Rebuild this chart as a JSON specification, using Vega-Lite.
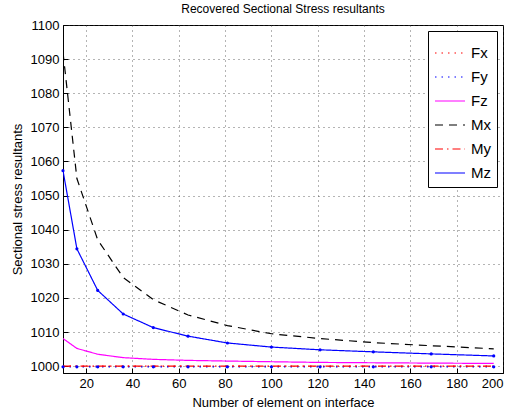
{
  "$schema": "https://vega.github.io/schema/vega-lite/v6.json",
  "autosize": {"type": "none"},
  "width": 440,
  "height": 348,
  "padding": {"left": 63, "top": 25, "right": 9, "bottom": 38},
  "background": "white",
  "title": {"text": "Recovered Sectional Stress resultants", "fontSize": 12, "fontWeight": "normal", "font": "Liberation Sans", "color": "black", "offset": 3},
  "data": {"values": [
    {"x": 10, "s": "Fx", "v": 1000}, {"x": 16, "s": "Fx", "v": 1000}, {"x": 25, "s": "Fx", "v": 1000}, {"x": 36, "s": "Fx", "v": 1000}, {"x": 49, "s": "Fx", "v": 1000}, {"x": 64, "s": "Fx", "v": 1000}, {"x": 81, "s": "Fx", "v": 1000}, {"x": 100, "s": "Fx", "v": 1000}, {"x": 121, "s": "Fx", "v": 1000}, {"x": 144, "s": "Fx", "v": 1000}, {"x": 169, "s": "Fx", "v": 1000}, {"x": 196, "s": "Fx", "v": 1000},
    {"x": 10, "s": "Fy", "v": 999.8}, {"x": 16, "s": "Fy", "v": 999.8}, {"x": 25, "s": "Fy", "v": 999.8}, {"x": 36, "s": "Fy", "v": 999.8}, {"x": 49, "s": "Fy", "v": 999.8}, {"x": 64, "s": "Fy", "v": 999.8}, {"x": 81, "s": "Fy", "v": 999.8}, {"x": 100, "s": "Fy", "v": 999.8}, {"x": 121, "s": "Fy", "v": 999.8}, {"x": 144, "s": "Fy", "v": 999.8}, {"x": 169, "s": "Fy", "v": 999.8}, {"x": 196, "s": "Fy", "v": 999.8},
    {"x": 10, "s": "Fz", "v": 1008.1}, {"x": 16, "s": "Fz", "v": 1005.2}, {"x": 25, "s": "Fz", "v": 1003.5}, {"x": 36, "s": "Fz", "v": 1002.5}, {"x": 49, "s": "Fz", "v": 1002.0}, {"x": 64, "s": "Fz", "v": 1001.7}, {"x": 81, "s": "Fz", "v": 1001.5}, {"x": 100, "s": "Fz", "v": 1001.3}, {"x": 121, "s": "Fz", "v": 1001.1}, {"x": 144, "s": "Fz", "v": 1001.0}, {"x": 169, "s": "Fz", "v": 1000.9}, {"x": 196, "s": "Fz", "v": 1000.8},
    {"x": 10, "s": "Mx", "v": 1092}, {"x": 16, "s": "Mx", "v": 1055}, {"x": 25, "s": "Mx", "v": 1037}, {"x": 36, "s": "Mx", "v": 1026}, {"x": 49, "s": "Mx", "v": 1019.5}, {"x": 64, "s": "Mx", "v": 1015}, {"x": 81, "s": "Mx", "v": 1011.9}, {"x": 100, "s": "Mx", "v": 1009.5}, {"x": 121, "s": "Mx", "v": 1008.1}, {"x": 144, "s": "Mx", "v": 1006.9}, {"x": 169, "s": "Mx", "v": 1006.0}, {"x": 196, "s": "Mx", "v": 1005.1},
    {"x": 10, "s": "My", "v": 1000}, {"x": 16, "s": "My", "v": 1000}, {"x": 25, "s": "My", "v": 1000}, {"x": 36, "s": "My", "v": 1000}, {"x": 49, "s": "My", "v": 1000}, {"x": 64, "s": "My", "v": 1000}, {"x": 81, "s": "My", "v": 1000}, {"x": 100, "s": "My", "v": 1000}, {"x": 121, "s": "My", "v": 1000}, {"x": 144, "s": "My", "v": 1000}, {"x": 169, "s": "My", "v": 1000}, {"x": 196, "s": "My", "v": 1000},
    {"x": 10, "s": "Mz", "v": 1057.3}, {"x": 16, "s": "Mz", "v": 1034.4}, {"x": 25, "s": "Mz", "v": 1022.2}, {"x": 36, "s": "Mz", "v": 1015.3}, {"x": 49, "s": "Mz", "v": 1011.3}, {"x": 64, "s": "Mz", "v": 1008.8}, {"x": 81, "s": "Mz", "v": 1006.8}, {"x": 100, "s": "Mz", "v": 1005.6}, {"x": 121, "s": "Mz", "v": 1004.8}, {"x": 144, "s": "Mz", "v": 1004.2}, {"x": 169, "s": "Mz", "v": 1003.6}, {"x": 196, "s": "Mz", "v": 1003.0}
  ]},
  "encoding": {
    "x": {"field": "x", "type": "quantitative", "scale": {"domain": [10, 200], "nice": false, "zero": false},
          "axis": {"title": "Number of element on interface", "values": [20, 40, 60, 80, 100, 120, 140, 160, 180, 200], "format": "d", "labelOverlap": false, "grid": true}},
    "y": {"field": "v", "type": "quantitative", "scale": {"domain": [998, 1100], "nice": false, "zero": false},
          "axis": {"title": "Sectional stress resultants", "values": [1000, 1010, 1020, 1030, 1040, 1050, 1060, 1070, 1080, 1090, 1100], "format": "d", "labelOverlap": false, "grid": true}}
  },
  "layer": [
    {
      "mark": {"type": "line", "clip": true},
      "encoding": {
        "color": {"field": "s", "type": "nominal",
                  "scale": {"domain": ["Fx", "Fy", "Fz", "Mx", "My", "Mz"], "range": ["#ff0000", "#0000ff", "#ff00ff", "#000000", "#ff0000", "#0000ff"]},
                  "legend": {"title": null}},
        "strokeDash": {"field": "s", "type": "nominal",
                  "scale": {"domain": ["Fx", "Fy", "Fz", "Mx", "My", "Mz"], "range": [[1.5, 5], [1.5, 5], [1, 0], [8, 6], [8, 4, 1.5, 4], [1, 0]]},
                  "legend": {"title": null}},
        "strokeWidth": {"field": "s", "type": "nominal",
                  "scale": {"domain": ["Fx", "Fy", "Fz", "Mx", "My", "Mz"], "range": [1.2, 1.2, 2.2, 2.2, 2, 2]},
                  "legend": null}
      }
    },
    {
      "transform": [{"filter": "datum.s === 'Fy' || datum.s === 'Mz'"}],
      "mark": {"type": "point", "filled": true, "size": 10, "color": "#0000ff", "opacity": 1}
    }
  ],
  "config": {
    "font": "Liberation Sans",
    "view": {"stroke": "black", "strokeWidth": 1},
    "axis": {
      "labelFont": "Liberation Sans", "labelFontSize": 13, "labelColor": "black",
      "titleFont": "Liberation Sans", "titleFontSize": 13, "titleFontWeight": "normal", "titleColor": "black",
      "domainColor": "black", "tickColor": "black", "tickSize": -5, "labelPadding": 9,
      "gridColor": "#444444", "gridDash": [1, 4], "gridOpacity": 0.8, "gridWidth": 1
    },
    "axisX": {"titlePadding": 6},
    "axisY": {"titlePadding": 6},
    "legend": {
      "orient": "top-right", "offset": 6,
      "strokeColor": "black", "fillColor": "white", "padding": 6,
      "symbolType": "stroke", "symbolSize": 900, "symbolStrokeWidth": 2,
      "labelFont": "Liberation Sans", "labelFontSize": 15, "labelColor": "black",
      "rowPadding": 0, "labelOffset": 5
    }
  }
}
